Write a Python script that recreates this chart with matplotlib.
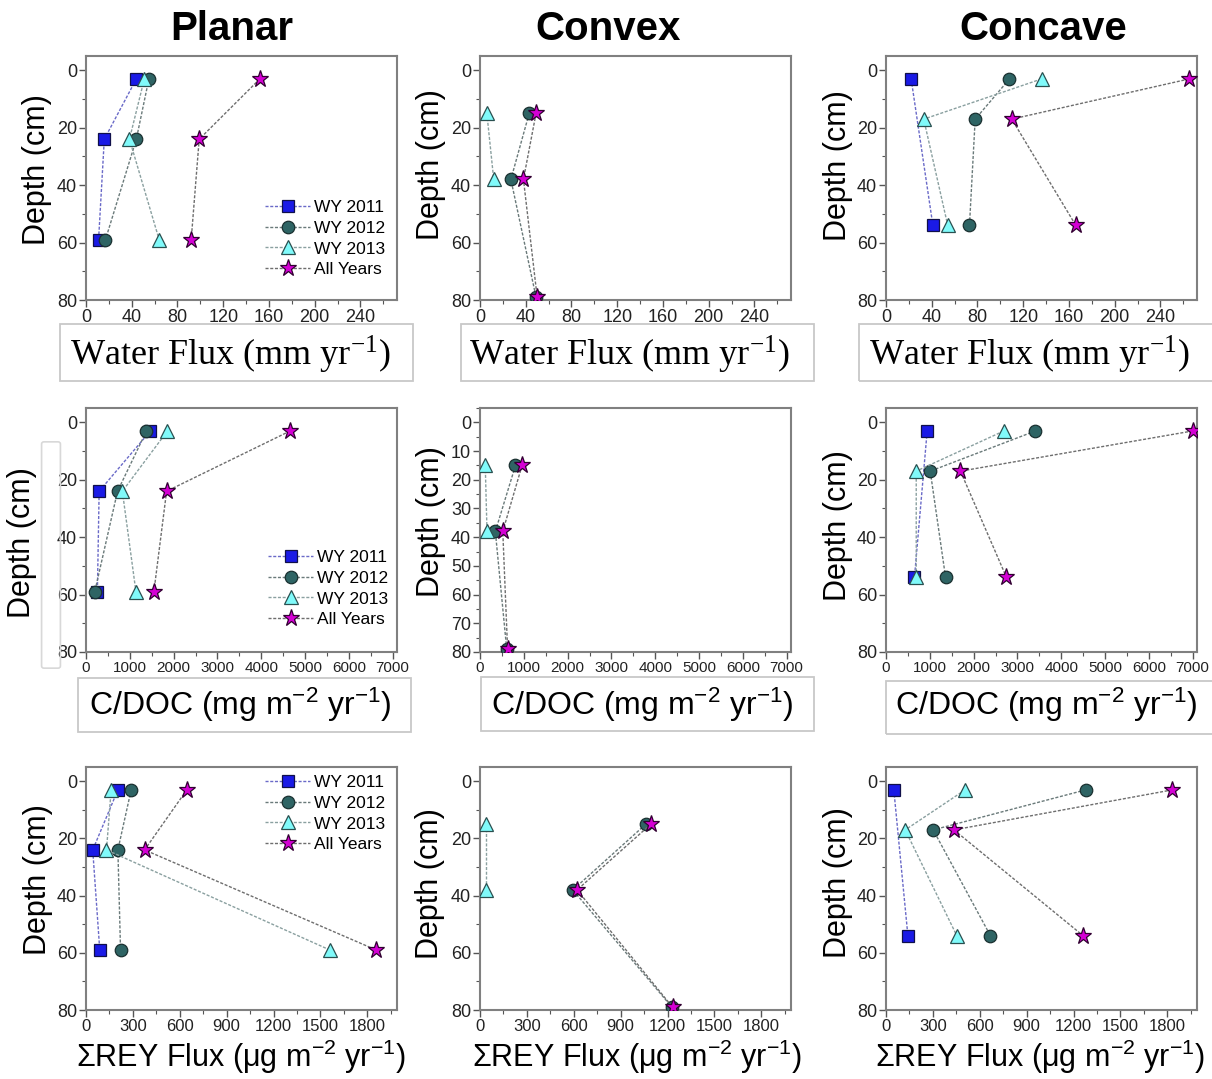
import numpy as np
import matplotlib
matplotlib.use("Agg")
import matplotlib.pyplot as plt
from matplotlib.patches import Rectangle, FancyBboxPatch
from matplotlib.ticker import MultipleLocator

plt.rcParams['font.family'] = ['Liberation Sans', 'DejaVu Sans']
plt.rcParams['mathtext.fontset'] = 'custom'
plt.rcParams['mathtext.rm'] = 'Liberation Sans'
plt.rcParams['mathtext.it'] = 'Liberation Sans:italic'
plt.rcParams['mathtext.bf'] = 'Liberation Sans:bold'

nan = np.nan

# ---------------- data ----------------
columns = ["Planar", "Convex", "Concave"]
series_names = ["WY 2011", "WY 2012", "WY 2013", "All Years"]

planar_depth = [3, 24, 59]
convex_depth = [15, 38, 79]
concave_depth = [3, 17, 54]

water_planar_2011 = [44, 16, 11]
water_planar_2012 = [55, 44, 17]
water_planar_2013 = [51, 38, 64]
water_planar_all = [152, 99, 92]
water_convex_2011 = [nan, nan, nan]
water_convex_2012 = [43, 27, 49]
water_convex_2013 = [6, 12, nan]
water_convex_all = [49, 38, 50]
water_concave_2011 = [22, nan, 41]
water_concave_2012 = [108, 78, 73]
water_concave_2013 = [136, 33, 54]
water_concave_all = [265, 110, 166]

doc_planar_2011 = [1470, 300, 260]
doc_planar_2012 = [1380, 720, 200]
doc_planar_2013 = [1860, 830, 1140]
doc_planar_all = [4660, 1840, 1550]
doc_convex_2011 = [nan, nan, nan]
doc_convex_2012 = [810, 350, 610]
doc_convex_2013 = [120, 160, nan]
doc_convex_all = [960, 520, 630]
doc_concave_2011 = [940, nan, 650]
doc_concave_2012 = [3410, 1010, 1360]
doc_concave_2013 = [2690, 690, 690]
doc_concave_all = [7000, 1700, 2750]

rey_planar_2011 = [204, 43, 88]
rey_planar_2012 = [289, 204, 221]
rey_planar_2013 = [161, 131, 1560]
rey_planar_all = [645, 375, 1856]
rey_convex_2011 = [nan, nan, nan]
rey_convex_2012 = [1061, 594, 1228]
rey_convex_2013 = [39, 39, nan]
rey_convex_all = [1093, 621, 1232]
rey_concave_2011 = [50, nan, 140]
rey_concave_2012 = [1278, 302, 668]
rey_concave_2013 = [506, 123, 453]
rey_concave_all = [1832, 435, 1261]

water_ticks = [0, 40, 80, 120, 160, 200, 240]
doc_ticks = [0, 1000, 2000, 3000, 4000, 5000, 6000, 7000]
rey_ticks = [0, 300, 600, 900, 1200, 1500, 1800]
depth_ticks = [0, 20, 40, 60, 80]
depth_ticks_fine = [0, 10, 20, 30, 40, 50, 60, 70, 80]

# ---------------- styles ----------------
W, H = 1212, 1079
fig = plt.figure(figsize=(W / 100, H / 100), dpi=100)


def fx(x):
    return x / W


def fy(y):
    return 1 - y / H


styles = [
    dict(marker='s', ms=8, mfc='#1a1ae6', mec='#10104a', color='#6a6ac8'),
    dict(marker='o', ms=9, mfc='#2e6464', mec='#1a3030', color='#6a7a7a'),
    dict(marker='^', ms=10.5, mfc='#80fafa', mec='#2a5050', color='#8aa0a0'),
    dict(marker='*', ms=12.5, mfc='#d400d4', mec='#300030', color='#6e6e6e'),
]

rows_y = [(56, 300), (408, 652), (767, 1010)]
cols_x = [(86, 397), (480, 791), (886, 1197)]

depths = [planar_depth, convex_depth, concave_depth]
panel_data = [
    [[water_planar_2011, water_planar_2012, water_planar_2013, water_planar_all],
     [water_convex_2011, water_convex_2012, water_convex_2013, water_convex_all],
     [water_concave_2011, water_concave_2012, water_concave_2013, water_concave_all]],
    [[doc_planar_2011, doc_planar_2012, doc_planar_2013, doc_planar_all],
     [doc_convex_2011, doc_convex_2012, doc_convex_2013, doc_convex_all],
     [doc_concave_2011, doc_concave_2012, doc_concave_2013, doc_concave_all]],
    [[rey_planar_2011, rey_planar_2012, rey_planar_2013, rey_planar_all],
     [rey_convex_2011, rey_convex_2012, rey_convex_2013, rey_convex_all],
     [rey_concave_2011, rey_concave_2012, rey_concave_2013, rey_concave_all]],
]
xticks_rows = [water_ticks, doc_ticks, rey_ticks]
xlim_rows = [272, 7100, 1990]
xminor_rows = [20, 500, 150]
xtick_size = [13, 11, 12]

legend_tops = [(265, 200), (268, 550), (265, 775)]

for r in range(3):
    y0, y1 = rows_y[r]
    for c in range(3):
        x0, x1 = cols_x[c]
        ax = fig.add_axes([fx(x0), fy(y1), (x1 - x0) / W, (y1 - y0) / H])
        d = np.array(depths[c], dtype=float)
        handles = []
        for s, vals in enumerate(panel_data[r][c]):
            v = np.array(vals, dtype=float)
            m = ~np.isnan(v)
            st = styles[s]
            h, = ax.plot(v[m], d[m], linestyle=(0, (2.2, 1.2)), lw=1.0,
                         color=st['color'], marker=st['marker'], ms=st['ms'],
                         mfc=st['mfc'], mec=st['mec'], mew=0.9,
                         label=series_names[s], zorder=3 + s)
            handles.append(h)
        ax.set_xlim(0, xlim_rows[r])
        ax.set_ylim(80, -5)
        ax.set_xticks(xticks_rows[r])
        ax.xaxis.set_minor_locator(MultipleLocator(xminor_rows[r]))
        if r == 1 and c == 1:
            ax.set_yticks(depth_ticks_fine)
            ax.yaxis.set_minor_locator(MultipleLocator(5))
        else:
            ax.set_yticks(depth_ticks)
            ax.yaxis.set_minor_locator(MultipleLocator(10))
        ax.tick_params(axis='both', which='major', direction='out', length=5,
                       width=1.0, color='#555555', pad=1.5)
        ax.tick_params(axis='both', which='minor', direction='out', length=3,
                       width=0.8, color='#555555')
        ax.tick_params(axis='x', labelsize=xtick_size[r], labelcolor='#222222')
        ax.tick_params(axis='y', labelsize=13, labelcolor='#222222')
        for sp in ax.spines.values():
            sp.set_color('#808080')
            sp.set_linewidth(1.5)
        if c == 0:
            lx, ly = legend_tops[r]
            ax.legend(handles=handles, loc='upper left',
                      bbox_to_anchor=(fx(lx), fy(ly)),
                      bbox_transform=fig.transFigure, frameon=False,
                      fontsize=12.5, handlelength=2.6, handletextpad=0.25,
                      labelspacing=0.32, borderpad=0, borderaxespad=0)

# ---------------- titles ----------------
for name, x in zip(columns, [232, 608, 1043]):
    fig.text(fx(x), fy(29), name, ha='center', va='center',
             fontsize=29, fontweight='bold')

# ---------------- y labels ----------------
ylab_pos = [[(37, 170), (431, 165), (838, 166)],
            [(22, 543), (431, 522), (838, 526)],
            [(38, 880), (430, 884), (838, 883)]]
for r in range(3):
    for c in range(3):
        x, y = ylab_pos[r][c]
        fig.text(fx(x), fy(y), "Depth (cm)", rotation=90, ha='center',
                 va='center', fontsize=22)

# ---------------- x label boxes ----------------
row1_boxes = [(60, 324, 413, 381), (461, 324, 814, 381), (859, 324, 1214, 381)]
row1_text_x = [231, 630, 1030]
for (bx0, by0, bx1, by1), tx in zip(row1_boxes, row1_text_x):
    fig.patches.append(Rectangle((fx(bx0), fy(by1)), (bx1 - bx0) / W,
                                 (by1 - by0) / H, transform=fig.transFigure,
                                 fill=False, ec='#c8c8c8', lw=1.3))
    fig.text(fx(tx), fy(354), r"Water Flux (mm yr$^{\mathregular{-1}}$)",
             ha='center', va='center', fontsize=26,
             family=['Liberation Serif', 'DejaVu Serif'],
             math_fontfamily='stix')

row2_boxes = [(78, 678, 411, 732), (481, 677, 814, 731), (886, 681, 1214, 734)]
row2_text_x = [240, 642, 1046]
for (bx0, by0, bx1, by1), tx in zip(row2_boxes, row2_text_x):
    fig.patches.append(Rectangle((fx(bx0), fy(by1)), (bx1 - bx0) / W,
                                 (by1 - by0) / H, transform=fig.transFigure,
                                 fill=False, ec='#c8c8c8', lw=1.3))
    fig.text(fx(tx), fy(705), r"C/DOC (mg m$^{-2}$ yr$^{-1}$)",
             ha='center', va='center', fontsize=23)

# rounded light box next to planar C/DOC depth label
fig.patches.append(FancyBboxPatch((fx(44), fy(666)), 14 / W, 222 / H,
                                  boxstyle="round,pad=0.002",
                                  transform=fig.transFigure, fill=False,
                                  ec='#d8d8d8', lw=1.2))

row3_text_x = [241, 637, 1040]
for tx in row3_text_x:
    fig.text(fx(tx), fy(1057), r"ΣREY Flux (μg m$^{-2}$ yr$^{-1}$)",
             ha='center', va='center', fontsize=22)

fig.savefig("out.png", dpi=100, facecolor='white')
